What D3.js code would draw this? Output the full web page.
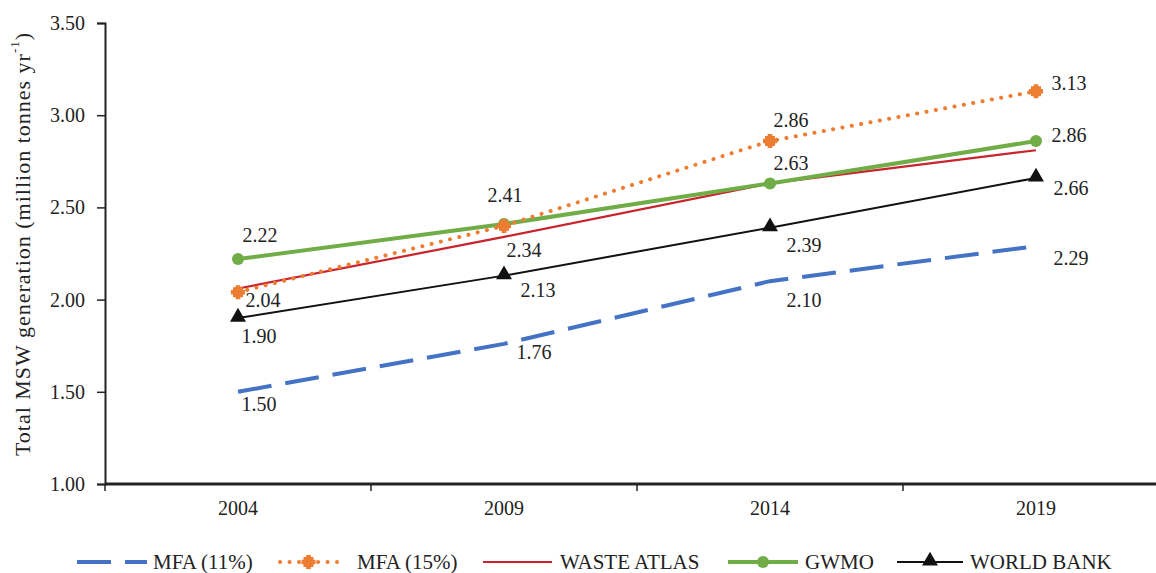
<!DOCTYPE html>
<html>
<head>
<meta charset="utf-8">
<script src="https://cdn.jsdelivr.net/npm/d3@7/dist/d3.min.js"></script>
<style>
  html, body { margin: 0; padding: 0; background: #fff; }
  svg { display: block; }
  text { font-family: "Liberation Serif", "Times New Roman", serif; fill: #222; }
</style>
</head>
<body>
<svg id="chart" width="1156" height="573"></svg>
<script>
// Years on the category axis
const years = ["2004", "2009", "2014", "2019"];
const yTicks = [1.0, 1.5, 2.0, 2.5, 3.0, 3.5];

// Total MSW generation estimates (million tonnes per year)
const mfa11 = [1.50, 1.76, 2.10, 2.29];
const mfa15 = [2.04, 2.40, 2.86, 3.13];
const wasteAtlas = [2.06, 2.34, 2.63, 2.81];
const gwmo = [2.22, 2.41, 2.63, 2.86];
const worldBank = [1.90, 2.13, 2.39, 2.66];

const seriesNames = ["MFA (11%)", "MFA (15%)", "WASTE ATLAS", "GWMO", "WORLD BANK"];

// Series definitions: styling plus which points carry a value label and where it sits
const series = [
  { name: seriesNames[0], values: mfa11, color: "#4472C4", width: 4, dash: "34,14", cap: "butt", marker: null,
    labels: [[21, 12], [30, 8], [34, 19], [35, 12]] },
  { name: seriesNames[1], values: mfa15, color: "#ED7D31", width: 4, dash: "0.1,9.4", cap: "round", marker: "star",
    labels: [[25, 8], null, [21, -21], [33, -8]] },
  { name: seriesNames[2], values: wasteAtlas, color: "#C9232C", width: 2.2, dash: null, cap: "butt", marker: null,
    labels: [null, [20, 13], null, null] },
  { name: seriesNames[3], values: gwmo, color: "#70AD47", width: 4, dash: null, cap: "butt", marker: "circle",
    labels: [[22, -24], [1, -29], [21, -20], [33, -6]] },
  { name: seriesNames[4], values: worldBank, color: "#111111", width: 2, dash: null, cap: "butt", marker: "triangle",
    labels: [[21, 18], [34, 14], [34, 17], [35, 10]] }
];

const svg = d3.select("#chart");
const plot = { left: 105, top: 23, bottom: 484, right: 1169 };

const x = d3.scaleBand().domain(years).range([plot.left, plot.right]);
const y = d3.scaleLinear().domain([1.0, 3.5]).range([plot.bottom, plot.top]);
const cx = d => x(d) + x.bandwidth() / 2;

// Y axis
const yAxis = svg.append("g")
  .attr("transform", `translate(${plot.left},0)`)
  .call(d3.axisLeft(y).tickValues(yTicks).tickFormat(d3.format(".2f")).tickSize(8).tickPadding(12));
yAxis.select(".domain").attr("stroke", "#222").attr("stroke-width", 2);
yAxis.selectAll(".tick line").attr("stroke", "#222").attr("stroke-width", 1.5);
yAxis.selectAll(".tick text").attr("font-size", 20).attr("font-family", "Liberation Serif").attr("fill", "#222");

// X axis: ticks at band boundaries, labels at band centres
const xAxisG = svg.append("g").attr("transform", `translate(0,${plot.bottom})`);
xAxisG.append("line")
  .attr("x1", plot.left).attr("x2", plot.right)
  .attr("stroke", "#222").attr("stroke-width", 3);
const boundaries = years.map(d => x(d)).concat([plot.right]);
xAxisG.selectAll("line.tk").data(boundaries).join("line")
  .attr("class", "tk")
  .attr("x1", d => d).attr("x2", d => d)
  .attr("y1", 0).attr("y2", 7)
  .attr("stroke", "#222").attr("stroke-width", 1.5);
xAxisG.selectAll("text").data(years).join("text")
  .attr("x", d => cx(d)).attr("y", 24)
  .attr("text-anchor", "middle").attr("dominant-baseline", "central")
  .attr("font-size", 20)
  .text(d => d);

// Y axis title
svg.append("text")
  .attr("transform", `translate(22,244) rotate(-90)`)
  .attr("text-anchor", "middle").attr("dominant-baseline", "central")
  .attr("font-size", 22)
  .attr("letter-spacing", 1.0)
  .call(t => {
    t.append("tspan").text("Total MSW generation (million tonnes yr");
    t.append("tspan").attr("font-size", 13).attr("dy", -8).text("-1");
    t.append("tspan").attr("dy", 8).text(")");
  });

// Marker shapes
function drawMarker(g, type, color, px, py, scale) {
  const s = scale || 1;
  if (type === "circle") {
    g.append("circle").attr("cx", px).attr("cy", py).attr("r", 6 * s).attr("fill", color);
  } else if (type === "triangle") {
    g.append("path")
      .attr("d", d3.symbol().type(d3.symbolTriangle).size(110 * s * s)())
      .attr("transform", `translate(${px},${py - 1})`)
      .attr("fill", color);
  } else if (type === "star") {
    g.append("path")
      .attr("d", d3.symbol().type(d3.symbolSquare).size(100 * s * s)())
      .attr("transform", `translate(${px},${py})`)
      .attr("fill", color);
    g.append("path")
      .attr("d", d3.symbol().type(d3.symbolCross).size(110 * s * s)())
      .attr("transform", `translate(${px},${py})`)
      .attr("fill", color);
  }
}

const line = d3.line().x((d, i) => cx(years[i])).y(d => y(d));

const linesG = svg.append("g");
// Draw order so green sits over red and the dotted line stays visible
const order = [0, 2, 4, 3, 1];
order.forEach(k => {
  const s = series[k];
  const g = linesG.append("g");
  g.append("path")
    .datum(s.values)
    .attr("d", line)
    .attr("fill", "none")
    .attr("stroke", s.color)
    .attr("stroke-width", s.width)
    .attr("stroke-linecap", s.cap)
    .attr("stroke-dasharray", s.dash);
  if (s.marker) {
    s.values.forEach((v, i) => drawMarker(g, s.marker, s.color, cx(years[i]), y(v), 1));
  }
});

// Value labels
const labelsG = svg.append("g");
series.forEach(s => {
  s.values.forEach((v, i) => {
    const off = s.labels[i];
    if (!off) return;
    labelsG.append("text")
      .attr("x", cx(years[i]) + off[0])
      .attr("y", y(v) + off[1])
      .attr("text-anchor", "middle").attr("dominant-baseline", "central")
      .attr("font-size", 20)
      .text(d3.format(".2f")(v));
  });
});

// Legend
const legendItems = [
  { s: series[0], x1: 77, x2: 147, tx: 153 },
  { s: series[1], x1: 280, x2: 337, tx: 357 },
  { s: series[2], x1: 483, x2: 552, tx: 560 },
  { s: series[3], x1: 728, x2: 798, tx: 805 },
  { s: series[4], x1: 897, x2: 963, tx: 970 }
];
const legendY = 562;
const legendG = svg.append("g");
legendItems.forEach(it => {
  const s = it.s;
  legendG.append("line")
    .attr("x1", it.x1).attr("x2", it.x2)
    .attr("y1", legendY).attr("y2", legendY)
    .attr("stroke", s.color).attr("stroke-width", s.width)
    .attr("stroke-linecap", s.cap)
    .attr("stroke-dasharray", s.dash);
  if (s.marker) drawMarker(legendG, s.marker, s.color, (it.x1 + it.x2) / 2, legendY, 1);
  legendG.append("text")
    .attr("x", it.tx).attr("y", legendY)
    .attr("dominant-baseline", "central")
    .attr("font-size", 21)
    .text(s.name);
});
</script>
</body>
</html>
